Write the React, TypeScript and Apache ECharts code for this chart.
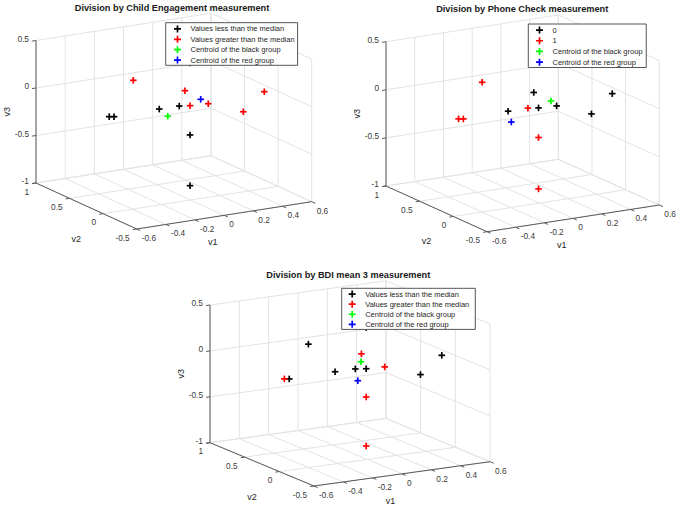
import React, { useEffect, useRef } from 'react';
import * as echarts from 'echarts';

// ---- data (same 13 observations in every panel) ----
const V1 = [-0.071, 0.007, 0.413, 0.213, 0.134, 0.06, -0.031, 0.315, -0.282, -0.249, 0.134, 0.134, 0.134];
const V2 = [0.7, 0.1, -0.2, 0.2, 0.3, 0.3, 0.4, -0.1, 0.6, 0.6, 0.3, 0.3, 0.3];
const V3 = [0.051, 0.117, 0.106, -0.102, -0.136, -0.122, -0.164, -0.114, -0.249, -0.257, -0.444, -0.978, 0.313];

// 0 = black group, 1 = red group
const CHILD_GROUP = [1, 1, 1, 1, 1, 0, 0, 1, 0, 0, 0, 0, 0];
const PHONE_GROUP = [1, 0, 0, 0, 0, 1, 0, 0, 1, 1, 1, 1, 0];
const BDI_GROUP = [0, 1, 0, 1, 0, 0, 0, 0, 1, 0, 1, 1, 0];

const CHILD_CENTROID_BLACK = [0.027, 0.4, -0.254];
const CHILD_CENTROID_RED = [0.146, 0.167, -0.029];
const PHONE_CENTROID_BLACK = [0.197, 0.25, -0.063];
const PHONE_CENTROID_RED = [-0.079, 0.25, -0.218];
const BDI_CENTROID_BLACK = [0.075, 0.25, -0.031];
const BDI_CENTROID_RED = [0.053, 0.25, -0.233];

const V1_TICKS = [-0.6, -0.4, -0.2, 0, 0.2, 0.4, 0.6];
const V2_TICKS = [-0.5, 0, 0.5, 1];
const V3_TICKS = [-1, -0.5, 0, 0.5];

const TITLES = [
  'Division by Child Engagement measurement',
  'Division by Phone Check measurement',
  'Division by BDI mean 3 measurement',
];
const NAMES_MEDIAN = [
  'Values less than the median',
  'Values greater than the median',
  'Centroid of the black group',
  'Centroid of the red group',
];
const NAMES_PHONE = ['0', '1', 'Centroid of the black group', 'Centroid of the red group'];
const AXIS_NAMES = ['v1', 'v2', 'v3'];

// ---- layout / style ----
const FONT = 'Liberation Sans';
const COLORS = ['#000000', '#ff0000', '#00ff00', '#0000ff'];
const PLUS_ICON = 'path://M2.65 0H4.35V2.65H7V4.35H4.35V7H2.65V4.35H0V2.65H2.65Z';
const R = 3.3;
const LW = 1.7;

type Panel = {
  title: string;
  names: string[];
  group: number[];
  cBlack: number[];
  cRed: number[];
  o: number[];
  e1: number[];
  e2: number[];
  e3: number[];
  titlePos: number[];
  legend: { left: number; top: number; padding: number[]; lineHeight: number };
};

const PANELS: Panel[] = [
  {
    title: TITLES[0], names: NAMES_MEDIAN, group: CHILD_GROUP,
    cBlack: CHILD_CENTROID_BLACK, cRed: CHILD_CENTROID_RED,
    o: [136.7, 229], e1: [175, -27.3], e2: [-100.7, -46], e3: [0, -142.5],
    titlePos: [172, 8.3],
    legend: { left: 165.7, top: 22.7, padding: [1, 3, 0, 8.3], lineHeight: 10.4 },
  },
  {
    title: TITLES[1], names: NAMES_PHONE, group: PHONE_GROUP,
    cBlack: PHONE_CENTROID_BLACK, cRed: PHONE_CENTROID_RED,
    o: [487, 231.7], e1: [172.3, -26.7], e2: [-101, -45.7], e3: [0, -144.3],
    titlePos: [522.2, 9.7],
    legend: { left: 528.3, top: 24, padding: [0.7, 3.7, 0, 7.7], lineHeight: 10.7 },
  },
  {
    title: TITLES[2], names: NAMES_MEDIAN, group: BDI_GROUP,
    cBlack: BDI_CENTROID_BLACK, cRed: BDI_CENTROID_RED,
    o: [314, 486], e1: [176, -24.3], e2: [-104, -43.3], e3: [0, -137.7],
    titlePos: [348.3, 275],
    legend: { left: 341.7, top: 288.3, padding: [0.7, 6, 0, 7], lineHeight: 10.1 },
  },
];

const X0 = V1_TICKS[0], X1 = V1_TICKS[V1_TICKS.length - 1];
const Y0 = V2_TICKS[0], Y1 = V2_TICKS[V2_TICKS.length - 1];
const Z0 = V3_TICKS[0], Z1 = V3_TICKS[V3_TICKS.length - 1];

function proj(p: Panel, v1: number, v2: number, v3: number): number[] {
  const f1 = (v1 - X0) / (X1 - X0);
  const f2 = (v2 - Y0) / (Y1 - Y0);
  const f3 = (v3 - Z0) / (Z1 - Z0);
  return [
    p.o[0] + f1 * p.e1[0] + f2 * p.e2[0] + f3 * p.e3[0],
    p.o[1] + f1 * p.e1[1] + f2 * p.e2[1] + f3 * p.e3[1],
  ];
}

function frame(p: Panel): any[] {
  const els: any[] = [];
  const GRID = '#e3e3e3';
  const AXIS = '#5a5a5a';
  const TXT = '#3a3a3a';
  const line = (a: number[], b: number[], stroke: string, w: number) =>
    els.push({ type: 'line', silent: true, shape: { x1: a[0], y1: a[1], x2: b[0], y2: b[1] }, style: { stroke, lineWidth: w } });
  const text = (x: number, y: number, t: string, align: string, size: number, color: string, rot = 0) =>
    els.push({
      type: 'text', silent: true, x, y, rotation: rot,
      style: { text: t, fill: color, fontSize: size, fontFamily: FONT, align, verticalAlign: 'middle' },
    });

  // floor
  V1_TICKS.forEach((t) => line(proj(p, t, Y0, Z0), proj(p, t, Y1, Z0), GRID, 1));
  V2_TICKS.forEach((s) => line(proj(p, X0, s, Z0), proj(p, X1, s, Z0), GRID, 1));
  // back wall (v2 = max)
  V1_TICKS.forEach((t) => line(proj(p, t, Y1, Z0), proj(p, t, Y1, Z1), GRID, 1));
  V3_TICKS.forEach((z) => line(proj(p, X0, Y1, z), proj(p, X1, Y1, z), GRID, 1));
  // right wall (v1 = max)
  V2_TICKS.forEach((s) => line(proj(p, X1, s, Z0), proj(p, X1, s, Z1), GRID, 1));
  V3_TICKS.forEach((z) => line(proj(p, X1, Y0, z), proj(p, X1, Y1, z), GRID, 1));

  // axes
  line(proj(p, X0, Y1, Z0), proj(p, X0, Y1, Z1), AXIS, 1);
  line(proj(p, X0, Y0, Z0), proj(p, X0, Y1, Z0), AXIS, 1);
  line(proj(p, X0, Y0, Z0), proj(p, X1, Y0, Z0), AXIS, 1);

  const n1 = Math.hypot(p.e1[0], p.e1[1]);
  const n2 = Math.hypot(p.e2[0], p.e2[1]);
  const u1 = [-p.e1[0] / n1, -p.e1[1] / n1];
  const u2 = [-p.e2[0] / n2, -p.e2[1] / n2];
  const TL = 4;

  V3_TICKS.forEach((z) => {
    const a = proj(p, X0, Y1, z);
    line(a, [a[0] + u1[0] * TL, a[1] + u1[1] * TL], AXIS, 1);
    text(a[0] - 7, a[1] - 1.8, String(z), 'right', 8.3, TXT);
  });
  V2_TICKS.forEach((s) => {
    const a = proj(p, X0, s, Z0);
    line(a, [a[0] + u1[0] * TL, a[1] + u1[1] * TL], AXIS, 1);
    text(a[0] - 7, a[1] + 8.6, String(s), 'right', 8.3, TXT);
  });
  V1_TICKS.forEach((t) => {
    const a = proj(p, t, Y0, Z0);
    line(a, [a[0] + u2[0] * TL, a[1] + u2[1] * TL], AXIS, 1);
    text(a[0] + 5, a[1] + 9, String(t), 'left', 8.3, TXT);
  });

  // axis names
  const m1 = proj(p, (X0 + X1) / 2, Y0, Z0);
  const m2 = proj(p, X0, (Y0 + Y1) / 2, Z0);
  const m3 = proj(p, X0, Y1, (Z0 + Z1) / 2);
  text(m1[0] - 11.5, m1[1] + 27, AXIS_NAMES[0], 'center', 9, '#262626');
  text(m2[0] - 10, m2[1] + 32.5, AXIS_NAMES[1], 'center', 9, '#262626');
  text(m3[0] - 29, m3[1], AXIS_NAMES[2], 'center', 9, '#262626', Math.PI / 2);
  return els;
}

function plusSeries(p: Panel, name: string, color: string, data: number[][]): any {
  return {
    type: 'custom',
    name,
    coordinateSystem: 'none',
    silent: true,
    itemStyle: { color },
    data,
    renderItem: (_params: any, api: any) => {
      const [x, y] = proj(p, api.value(0), api.value(1), api.value(2));
      return {
        type: 'group',
        children: [
          { type: 'line', shape: { x1: x - R, y1: y, x2: x + R, y2: y }, style: { stroke: color, lineWidth: LW } },
          { type: 'line', shape: { x1: x, y1: y - R, x2: x, y2: y + R }, style: { stroke: color, lineWidth: LW } },
        ],
      };
    },
  };
}

function pointsOf(group: number[], g: number): number[][] {
  const out: number[][] = [];
  group.forEach((v, i) => {
    if (v === g) out.push([V1[i], V2[i], V3[i]]);
  });
  return out;
}

export default function App() {
  const ref = useRef<HTMLDivElement>(null);
  useEffect(() => {
    if (!ref.current) return;
    const chart = echarts.init(ref.current, null, { renderer: 'svg' });
    const series: any[] = [];
    PANELS.forEach((p) => {
      series.push(plusSeries(p, p.names[0], COLORS[0], pointsOf(p.group, 0)));
      series.push(plusSeries(p, p.names[1], COLORS[1], pointsOf(p.group, 1)));
      series.push(plusSeries(p, p.names[2], COLORS[2], [p.cBlack]));
      series.push(plusSeries(p, p.names[3], COLORS[3], [p.cRed]));
    });
    const graphicEls: any[] = [];
    PANELS.forEach((p) => graphicEls.push(...frame(p)));
    chart.setOption({
      animation: false,
      backgroundColor: '#ffffff',
      title: PANELS.map((p) => ({
        text: p.title,
        left: p.titlePos[0],
        top: p.titlePos[1] - 4.8,
        textAlign: 'center',
        padding: 0,
        textStyle: { fontSize: 9.2, fontWeight: 'bold', fontFamily: FONT, color: '#1a1a1a' },
      })),
      legend: PANELS.map((p) => ({
        orient: 'vertical',
        left: p.legend.left,
        top: p.legend.top,
        padding: p.legend.padding,
        itemWidth: 16,
        itemHeight: 7,
        itemGap: 0,
        selectedMode: false,
        backgroundColor: '#ffffff',
        borderColor: '#555555',
        borderWidth: 1,
        icon: PLUS_ICON,
        data: p.names,
        textStyle: { fontSize: 7.5, fontFamily: FONT, color: '#262626', lineHeight: p.legend.lineHeight },
      })),
      graphic: { elements: graphicEls },
      series,
    });
    return () => chart.dispose();
  }, []);
  return <div ref={ref} style={{ position: 'absolute', left: 0, top: 0, width: 677, height: 506 }} />;
}
